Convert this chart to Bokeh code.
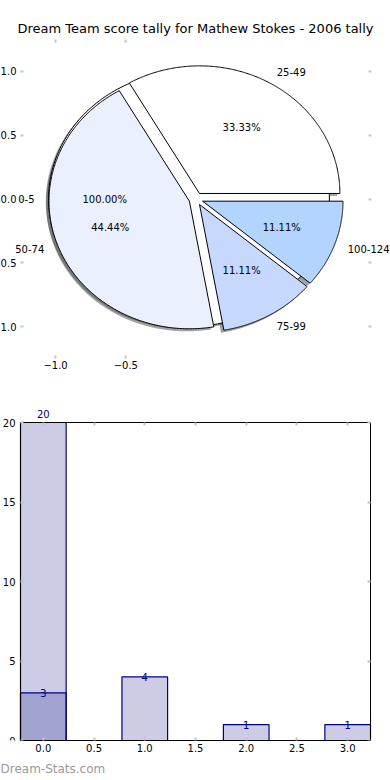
import numpy as np
from bokeh.plotting import figure
from bokeh.models import (ColumnDataSource, Label, LinearAxis, FixedTicker,
                          Title, Range1d)
from bokeh.layouts import column
from bokeh.embed import file_html
from bokeh.resources import INLINE

# ---------------- data ----------------
TITLE = "Dream Team score tally for Mathew Stokes - 2006 tally"
WATERMARK = "Dream-Stats.com"

pie1_labels = ["0-5"]
pie1_values = [20]
pie1_colors = ["#ffffff"]

pie2_labels = ["25-49", "50-74", "75-99", "100-124"]
pie2_values = [3, 4, 1, 1]
pie2_colors = ["#ffffff", "#eaf0fe", "#c6d8fe", "#b3d4fe"]

bar1_x = [0]
bar1_values = [20]
bar2_x = [0, 1, 2, 3]
bar2_values = [3, 4, 1, 1]

pie_yticks = [-1.0, -0.5, 0.0, 0.5, 1.0]
pie_xticks = [-1.0, -0.5]
bar_xticks = [0.0, 0.5, 1.0, 1.5, 2.0, 2.5, 3.0]
bar_yticks = [0, 5, 10, 15, 20]

# ---------------- style ----------------
EXPLODE = 0.05
SHADOW = 0.02
BAR_W = 0.45
PIE_LIM = 1.25
FONT = "DejaVu Sans"
NAVY = "#000080"
TICK = "#c4c4c4"
W = 390
# axes boxes (pixels) inside frames that span the whole width
PIE_BOX = (20, 371)
BAR_BOX = (20, 370)
# bar frame: extra room above the axes box so the top bar label is visible
BAR_FRAME_H, BAR_BOX_H = 335, 318


def shade(hex_color):
    h = hex_color.lstrip("#")
    r, g, b = (int(h[i:i + 2], 16) for i in (0, 2, 4))
    return "#%02x%02x%02x" % (int(r * 0.3), int(g * 0.3), int(b * 0.3))


def pie_parts(values, colors, labels):
    total = float(sum(values))
    xs, ys, sx, sy, fill, shad = [], [], [], [], [], []
    texts = []  # (x, y, text, align)
    t1 = 0.0
    for v, c, l in zip(values, colors, labels):
        span = 360.0 * v / total
        t2 = t1 + span
        m = np.radians((t1 + t2) / 2.0)
        cx, cy = EXPLODE * np.cos(m), EXPLODE * np.sin(m)
        th = np.radians(np.linspace(t1, t2, 240))
        px = cx + np.cos(th)
        py = cy + np.sin(th)
        if span < 360.0 - 1e-9:
            px = np.concatenate([[cx], px, [cx]])
            py = np.concatenate([[cy], py, [cy]])
        xs.append(px.tolist())
        ys.append(py.tolist())
        sx.append((px - SHADOW).tolist())
        sy.append((py - SHADOW).tolist())
        fill.append(c)
        shad.append(shade(c))
        lx = cx + 1.1 * np.cos(m)
        ly = cy + 1.1 * np.sin(m)
        texts.append((lx, ly, l, "left" if lx > 0 else "right"))
        texts.append((cx + 0.6 * np.cos(m), cy + 0.6 * np.sin(m),
                      "%.2f%%" % (100.0 * v / total), "center"))
        t1 = t2
    return dict(xs=xs, ys=ys, color=fill), dict(xs=sx, ys=sy, color=shad), texts


def fmt(t):
    return ("%.1f" % t).replace("-", "\u2212")


def wide_range(lo, hi, box):
    upp = (hi - lo) / float(box[1] - box[0])
    return Range1d(lo - box[0] * upp, hi + (W - box[1]) * upp)


def add_axis(p, side, ticks, show_labels=True, standoff=5, overrides=None,
             fixed=None, line_color=None, bounds=None):
    ax = LinearAxis(ticker=FixedTicker(ticks=ticks))
    if fixed is not None:
        ax.fixed_location = fixed
    if bounds is not None:
        ax.bounds = bounds
    ax.axis_line_color = line_color
    ax.axis_line_width = 1
    ax.major_tick_in = 3
    ax.major_tick_out = 0
    ax.major_tick_line_color = TICK
    ax.major_tick_line_width = 2
    ax.minor_tick_line_color = None
    ax.major_label_standoff = standoff
    ax.major_label_text_font = FONT
    ax.major_label_text_font_size = "10px"
    ax.major_label_text_color = "black"
    if not show_labels:
        ax.major_label_overrides = {t: "" for t in ticks}
    elif overrides is not None:
        ax.major_label_overrides = overrides
    p.add_layout(ax, side)
    return ax


# ---------------- pie figure ----------------
p1 = figure(width=W, height=395,
            x_range=wide_range(-PIE_LIM, PIE_LIM, PIE_BOX),
            y_range=Range1d(-PIE_LIM, PIE_LIM),
            x_axis_location=None, y_axis_location=None, output_backend="svg",
            toolbar_location=None, min_border_left=0, min_border_right=0,
            min_border_top=39, min_border_bottom=37, title=TITLE)
p1.title.text_font = FONT
p1.title.text_font_size = "13px"
p1.title.text_font_style = "normal"
p1.title.align = "center"
p1.title.text_color = "black"
p1.title.standoff = 7
p1.grid.visible = False
p1.outline_line_color = None

add_axis(p1, "left", pie_yticks, True, 4, {t: fmt(t) for t in pie_yticks}, fixed=-PIE_LIM)
add_axis(p1, "right", pie_yticks, False, fixed=PIE_LIM)
add_axis(p1, "below", pie_xticks, True, 2, {t: fmt(t) for t in pie_xticks})
add_axis(p1, "above", pie_xticks, False)

w1, s1, txt1 = pie_parts(pie1_values, pie1_colors, pie1_labels)
w2, s2, txt2 = pie_parts(pie2_values, pie2_colors, pie2_labels)

for s in (s1, s2):
    p1.patches("xs", "ys", source=ColumnDataSource(s), fill_color="color",
               fill_alpha=0.5, line_color=None)
for w in (w1, w2):
    p1.patches("xs", "ys", source=ColumnDataSource(w), fill_color="color",
               line_color="black", line_width=1)

for (x, y, t, a) in txt1 + txt2:
    p1.add_layout(Label(x=x, y=y, text=t, text_align=a, text_baseline="middle",
                        text_font=FONT, text_font_size="10px", text_color="black"))

# ---------------- bar figure ----------------
ymax = max(bar1_values)
x_lo, x_hi = min(bar2_x) - BAR_W / 2, max(bar2_x) + BAR_W / 2
p2 = figure(width=W, height=385,
            x_range=wide_range(x_lo, x_hi, BAR_BOX),
            y_range=Range1d(0, ymax * BAR_FRAME_H / BAR_BOX_H),
            x_axis_location=None, y_axis_location=None, output_backend="svg",
            toolbar_location=None, min_border_left=0, min_border_right=0,
            min_border_top=385 - 40 - BAR_FRAME_H, min_border_bottom=40)
p2.grid.visible = False
p2.outline_line_color = None

add_axis(p2, "left", bar_yticks, True, 5, line_color="black", bounds=(0, ymax), fixed=x_lo)
add_axis(p2, "right", bar_yticks, False, line_color="black", bounds=(0, ymax), fixed=x_hi)
add_axis(p2, "below", bar_xticks, True, 3, {t: fmt(t) for t in bar_xticks},
         line_color="black", bounds=(x_lo, x_hi))
add_axis(p2, "above", bar_xticks, False, fixed=ymax, line_color="black", bounds=(x_lo, x_hi))

b1 = ColumnDataSource(dict(x=bar1_x, top=bar1_values))
b2 = ColumnDataSource(dict(x=bar2_x, top=bar2_values))
for b in (b1, b2):
    p2.vbar(x="x", top="top", width=BAR_W, bottom=0, source=b, fill_color=NAVY,
            fill_alpha=0.2, line_color=NAVY, line_width=1.2)

for x, v in zip(bar1_x, bar1_values):
    p2.add_layout(Label(x=x, y=v, y_offset=9, text=str(v), text_align="center",
                        text_baseline="middle", text_font=FONT, text_font_size="10px",
                        text_color=NAVY))
for x, v in zip(bar2_x, bar2_values):
    p2.add_layout(Label(x=x, y=v, text=str(v), text_align="center",
                        text_baseline="middle", text_font=FONT, text_font_size="10px",
                        text_color=NAVY))

p2.add_layout(Title(text=WATERMARK, align="left", text_font=FONT, text_font_size="12px",
                    text_font_style="normal", text_color="#9a9a9a", offset=0, standoff=10),
              "below")

layout = column(p1, p2)

open("out.html", "w").write(file_html(layout, INLINE))
